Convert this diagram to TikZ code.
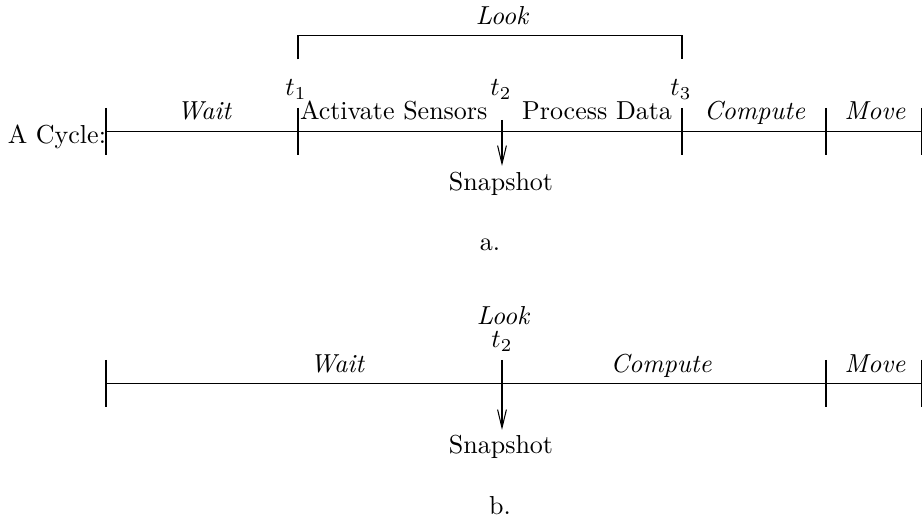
\documentclass[tikz,border=0pt]{standalone}
\usetikzlibrary{arrows.meta}
\begin{document}
\begin{tikzpicture}[x=0.3846pt,y=-0.3846pt,
  lbl/.style={inner sep=0pt,anchor=base},
  seg/.style={line width=0.4pt,line cap=butt},
  snap/.style={line width=0.4pt,-{Straight Barb[length=7pt,width=3.4pt,line width=0.4pt]}}]
\useasboundingbox (0,0) rectangle (924,523);
% ---------------- part a ----------------
\coordinate (aL) at (106,131.7);
\coordinate (aR) at (921.5,131.7);
\foreach \n/\x in {a1/106,a2/298,a3/682,a4/826,a5/921.5}{
  \coordinate (\n t) at (\x,108);
  \coordinate (\n b) at (\x,155);
}
\coordinate (at2t) at (502,120);
\coordinate (at2m) at (502,131.7);
\coordinate (at2e) at (502,166);
\coordinate (brL) at (298,59.3);
\coordinate (brLt) at (298,35.7);
\coordinate (brRt) at (682,35.7);
\coordinate (brR) at (682,59.3);

\draw[seg] (aL) -- (aR);
\foreach \n in {a1,a2,a3,a4,a5}{\draw[seg] (\n t) -- (\n b);}
\draw[seg] (at2t) -- (at2m);
\draw[snap] (at2m) -- (at2e);
\draw[seg] (brL) -- (brLt) -- (brRt) -- (brR);

\node[lbl] (alook) at (502,25) {\itshape Look};
\node[lbl] (at1) at (296,96) {$t_1$};
\node[lbl] (at2) at (501,96) {$t_2$};
\node[lbl] (at3) at (681,96) {$t_3$};
\node[lbl] (await) at (204,120) {\itshape Wait};
\node[lbl,anchor=base west] (aact) at (299.5,120) {Activate Sensors};
\node[lbl,anchor=base east] (aproc) at (672.5,120) {Process Data};
\node[lbl] (acomp) at (754.5,120) {\itshape Compute};
\node[lbl] (amove) at (875,120) {\itshape Move};
\node[lbl,anchor=base east] (acyc) at (106.5,144) {A Cycle:};
\node[lbl] (asnap) at (501,191) {Snapshot};
\node[lbl] (acap) at (490,251) {a.};
% ---------------- part b ----------------
\coordinate (bL) at (106,383.5);
\coordinate (bR) at (921.5,383.5);
\foreach \n/\x in {b1/106,b4/826,b5/921.5}{
  \coordinate (\n t) at (\x,360);
  \coordinate (\n b) at (\x,407);
}
\coordinate (bt2t) at (502,360);
\coordinate (bt2m) at (502,383.5);
\coordinate (bt2e) at (502,430);

\draw[seg] (bL) -- (bR);
\foreach \n in {b1,b4,b5}{\draw[seg] (\n t) -- (\n b);}
\draw[seg] (bt2t) -- (bt2m);
\draw[snap] (bt2m) -- (bt2e);

\node[lbl] (blook) at (503,325) {\itshape Look};
\node[lbl] (bt2) at (502,348) {$t_2$};
\node[lbl] (bwait) at (337,373) {\itshape Wait};
\node[lbl] (bcomp) at (661,373) {\itshape Compute};
\node[lbl] (bmove) at (875,373) {\itshape Move};
\node[lbl] (bsnap) at (501,454) {Snapshot};
\node[lbl] (bcap) at (500,515) {b.};
\end{tikzpicture}
\end{document}
